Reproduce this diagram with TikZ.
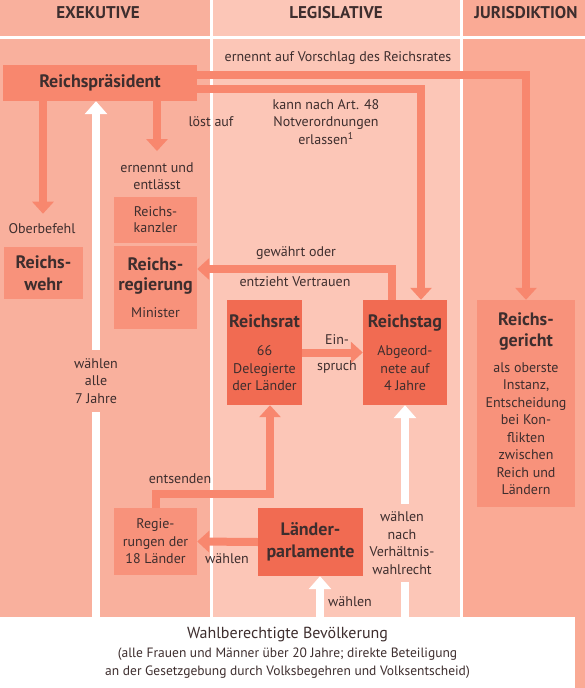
\documentclass[tikz,border=0pt]{standalone}
\usepackage{fontspec}
\setmainfont{PT Sans}
\usetikzlibrary{arrows.meta,positioning}

\definecolor{exek}{RGB}{249,176,157}
\definecolor{legis}{RGB}{252,198,183}
\definecolor{juris}{RGB}{250,170,149}
\definecolor{pfeilrot}{RGB}{248,135,110}
\definecolor{kastenrot}{RGB}{248,146,123}
\definecolor{organrot}{RGB}{241,107,82}
\definecolor{schrift}{RGB}{62,46,46}

\newcommand{\titelzeile}[1]{{\fontsize{18}{22}\selectfont\bfseries #1}}

\tikzset{every node/.style={text=schrift, align=center, inner sep=1pt,
                            font=\fontsize{14}{17.5}\selectfont},
        kopf/.style = {font=\fontsize{17}{20}\selectfont\bfseries},
        titel/.style = {font=\fontsize{18}{22}\selectfont\bfseries},
        praesident/.style = {fill=pfeilrot, inner sep=0pt, titel},
        kasten/.style = {fill=kastenrot, inner sep=0pt},
        organ/.style = {fill=organrot, inner sep=0pt},
        pfeil/.style = {draw=pfeilrot, line width=8pt,
                        -{Triangle[width=21pt,length=12pt]}},
        wahlpfeil/.style = {draw=white, line width=8pt,
                        -{Triangle[width=22pt,length=13pt]}},
        }

\begin{document}
\begin{tikzpicture}[x=1pt,y=-1pt]
    % Spalten
    \fill[white] (0,0) rectangle (585,688);
    \fill[exek] (0,0) rectangle (210,36);
    \fill[legis] (213,0) rectangle (460,36);
    \fill[juris] (463,0) rectangle (585,36);
    \fill[exek] (0,39) rectangle (210,617);
    \fill[legis] (213,39) rectangle (460,617);
    \fill[juris] (463,39) rectangle (585,688);

    \node[kopf] (Exekutive) at (98,13) {EXEKUTIVE};
    \node[kopf] (Legislative) at (336,13) {LEGISLATIVE};
    \node[kopf] (Jurisdiktion) at (526,13) {JURISDIKTION};

    % Organe
    \node[praesident, minimum width=194pt, minimum height=36pt] (Reichspraesident) at (100,83) {Reichspräsident};
    \node[kasten, titel, minimum width=79pt, minimum height=52pt] (Reichswehr) at (43.5,273) {Reichs-\\wehr};
    \node[kasten, minimum width=83pt, minimum height=46pt] (Reichskanzler) at (155.5,220) {Reichs-\\[-1.5pt]kanzler};
    \node[kasten, minimum width=83pt, minimum height=83pt] (Reichsregierung) at (155.5,287.5)
        {\titelzeile{Reichs-}\\[3pt]\titelzeile{regierung}\\[9pt]Minister};
    \node[organ, minimum width=75pt, minimum height=105pt] (Reichsrat) at (264.5,352.5)
        {\titelzeile{Reichsrat}\\[11pt]66\\Delegierte\\der Länder};
    \node[organ, minimum width=84pt, minimum height=105pt] (Reichstag) at (405,352.5)
        {\titelzeile{Reichstag}\\[11pt]Abgeord-\\nete auf\\4 Jahre};
    \node[kasten, minimum width=98pt, minimum height=207pt] (Reichsgericht) at (526,403.5)
        {\titelzeile{Reichs-}\\[4pt]\titelzeile{gericht}\\[8pt]als oberste\\Instanz,\\Entscheidung\\bei Kon-\\flikten\\zwischen\\Reich und\\Ländern};
    \node[kasten, minimum width=83pt, minimum height=67pt] (Regierungen) at (155.5,541.5) {Regie-\\rungen der\\18 Länder};
    \node[organ, titel, minimum width=105pt, minimum height=68pt] (Laenderparlamente) at (310.5,542) {Länder-\\parlamente};
    \node[fill=white, inner sep=0pt, minimum width=575pt, minimum height=71pt] (Bevoelkerung) at (287.5,652.5)
        {{\fontsize{16}{19}\selectfont Wahlberechtigte Bevölkerung}\\[2pt]
         \fontsize{13.5}{16}\selectfont (alle Frauen und Männer über 20 Jahre; direkte Beteiligung\\
         \fontsize{13.5}{16}\selectfont an der Gesetzgebung durch Volksbegehren und Volksentscheid)};

    % Beschriftungen
    \node (Vorschlag) at (338,58) {ernennt auf Vorschlag des Reichsrates};
    \node (Notverordnung) at (326,122) {kann nach Art. 48\\Notverordnungen\\erlassen\textsuperscript{1}};
    \node (LoestAuf) at (211,122) {löst auf};
    \node (Oberbefehl) at (42,229) {Oberbefehl};
    \node (ErnenntEntlaesst) at (157,176) {ernennt und\\entlässt};
    \node (GewaehrtOder) at (296,253) {gewährt oder};
    \node (EntziehtVertrauen) at (295,282) {entzieht Vertrauen};
    \node (Ein) at (337,340) {Ein-};
    \node (Spruch) at (337,367) {spruch};
    \node (Entsenden) at (180,479) {entsenden};
    \node (WaehlenLaender) at (227,559) {wählen};
    \node (WaehlenVolk) at (350,602) {wählen};

    \draw[pfeil, shorten >=9pt] (Reichspraesident.south -| 43,0) -- (Oberbefehl.north -| 43,0);
    \draw[pfeil, shorten >=10pt] (Reichspraesident.south -| ErnenntEntlaesst) -- (ErnenntEntlaesst.north);
    \draw[pfeil] (Reichspraesident.east |- 0,75) -| (Reichsgericht.north);
    \draw[pfeil] (Reichspraesident.east |- 0,89) -| (Reichstag.north -| 421,0);
    \draw[pfeil] (Reichstag.north -| 392,0) |- (Reichsregierung.east |- 0,269);
    \draw[pfeil] (Reichsrat.east) -- (Reichstag.west);
    \draw[pfeil] (Regierungen.north) |- (270,494) -- (Reichsrat.south -| 270,0);
    \draw[pfeil] (Laenderparlamente.west) -- (Regierungen.east);

    %\draw Wahlen
    \draw[wahlpfeil] (Bevoelkerung.north -| 96,0) -- (Reichspraesident.south -| 96,0);
    \draw[wahlpfeil] (Bevoelkerung.north -| 320,0) -- (Laenderparlamente.south -| 320,0);
    \draw[wahlpfeil] (Bevoelkerung.north -| Reichstag) -- (Reichstag.south);

    \node[fill=exek, inner ysep=8pt] (WaehlenSieben) at (96,381) {wählen\\alle\\7 Jahre};
    \node[fill=legis, inner ysep=8pt] (WaehlenProporz) at (402,543) {wählen\\nach\\Verhältnis-\\wahlrecht};
\end{tikzpicture}
\end{document}
